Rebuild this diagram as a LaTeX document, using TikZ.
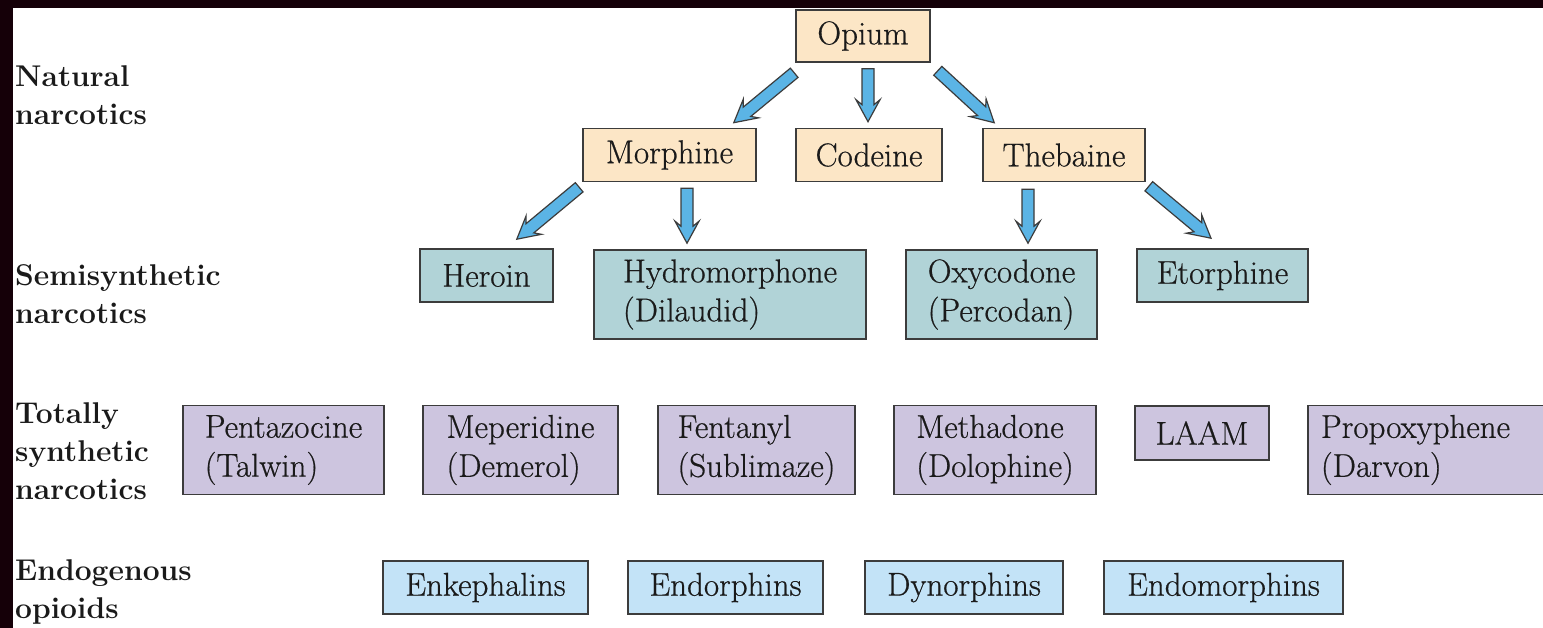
\documentclass[tikz,border=0pt]{standalone}
\usepackage{fontspec}
\newfontfamily\boxfam{Latin Modern Roman}[FakeBold=0.6]
\usetikzlibrary{calc}
\definecolor{peachcol}{HTML}{FCE6C6}
\definecolor{semicol}{HTML}{B1D3D7}
\definecolor{synthcol}{HTML}{CDC5DF}
\definecolor{endocol}{HTML}{C3E3F7}
\definecolor{arrowcol}{HTML}{5BB4E5}
\definecolor{linecol}{HTML}{3C3C3C}
\definecolor{bandcol}{HTML}{150008}
\definecolor{textcol}{HTML}{1A1A1A}
\newcommand\boxfont{\boxfam\fontsize{33}{39}\selectfont}
\newcommand\labfont{\fontsize{30}{38}\selectfont\bfseries}
\newcommand\fatarrow[2]{%
  \draw[fatarr] let \p1=#1, \p2=#2,
    \n1={atan2(\y2-\y1,\x2-\x1)}, \n2={veclen(\x2-\x1,\y2-\y1)} in
    ($(\p1)+(\n1+90:6)$) -- ($(\p1)+(\n1:\n2-17)+(\n1+90:6)$)
    -- ($(\p1)+(\n1:\n2-22)+(\n1+90:12)$) -- (\p2)
    -- ($(\p1)+(\n1:\n2-22)+(\n1-90:12)$) -- ($(\p1)+(\n1:\n2-17)+(\n1-90:6)$)
    -- ($(\p1)+(\n1-90:6)$) -- cycle;}
\begin{document}
\begin{tikzpicture}[x=1pt,y=1pt,
  box/.style={draw=linecol, line width=1.6pt, inner sep=0pt, align=left,
    font=\boxfont, text=textcol},
  one/.style={minimum height=53pt},
  two/.style={minimum height=89pt},
  lab/.style={anchor=north west, inner sep=0pt, align=left, font=\labfont, text=textcol},
  fatarr/.style={fill=arrowcol, draw=linecol, line width=1.2pt, line join=miter}]
\useasboundingbox (0,0) rectangle (1543,-628);
\fill[white] (-5,5) rectangle (1550,-635);
\fill[bandcol] (-5,5) rectangle (1550,-8);
\fill[bandcol] (-5,5) rectangle (13,-635);

% labels
\node[lab] (lnat) at (15,-65) {Natural\\narcotics};
\node[lab] (lsemi) at (15,-264) {Semisynthetic\\narcotics};
\node[lab] (ltot) at (15,-402) {Totally\\synthetic\\narcotics};
\node[lab] (lendo) at (15,-559) {Endogenous\\opioids};

% natural
\node[box, fill=peachcol, minimum width=134pt, minimum height=52pt] (opium) at (863,-36) {Opium};
\node[box, one, fill=peachcol, minimum width=173pt] (morphine) at (669.5,-155) {Morphine};
\node[box, one, fill=peachcol, minimum width=146pt] (codeine) at (869,-155) {Codeine};
\node[box, one, fill=peachcol, minimum width=162pt] (thebaine) at (1064,-155) {Thebaine};

% semisynthetic
\node[box, one, fill=semicol, minimum width=133pt] (heroin) at (486.5,-275.5) {Heroin};
\node[box, two, fill=semicol, minimum width=272pt] (hydro) at (730,-294.5) {Hydromorphone\\(Dilaudid)};
\node[box, two, fill=semicol, minimum width=191pt] (oxy) at (1001.5,-294.5) {Oxycodone\\(Percodan)};
\node[box, one, fill=semicol, minimum width=171pt] (etor) at (1222.5,-275.5) {Etorphine};

% totally synthetic
\node[box, two, fill=synthcol, minimum width=201pt] (penta) at (283.5,-450) {Pentazocine\\(Talwin)};
\node[box, two, fill=synthcol, minimum width=195pt] (meper) at (520.5,-450) {Meperidine\\(Demerol)};
\node[box, two, fill=synthcol, minimum width=197pt] (fent) at (756.5,-450) {Fentanyl\\(Sublimaze)};
\node[box, two, fill=synthcol, minimum width=202pt] (metha) at (995,-450) {Methadone\\(Dolophine)};
\node[box, one, fill=synthcol, minimum width=134pt, minimum height=54pt] (laam) at (1202,-433) {LAAM};
\node[box, two, fill=synthcol, minimum width=250pt, text width=224pt] (propo) at (1433,-450) {Propoxyphene\\(Darvon)};

% endogenous
\node[box, one, fill=endocol, minimum width=205pt] (enk) at (485.5,-587.5) {Enkephalins};
\node[box, one, fill=endocol, minimum width=195pt] (endor) at (725.5,-587.5) {Endorphins};
\node[box, one, fill=endocol, minimum width=198pt] (dyn) at (964,-587.5) {Dynorphins};
\node[box, one, fill=endocol, minimum width=239pt] (endom) at (1223.5,-587.5) {Endomorphins};

% arrows
\fatarrow{($(opium.south west)+(-1,-10)$)}{($(morphine.north east)+(-23,5)$)}
\fatarrow{($(opium.south)+(5,-6)$)}{($(codeine.north)+(-1,6)$)}
\fatarrow{($(opium.south east)+(7,-8)$)}{($(thebaine.north west)+(12,5)$)}
\fatarrow{($(morphine.south west)+(-3,-5)$)}{($(heroin.north east)+(-37,9)$)}
\fatarrow{($(morphine.south)+(17.5,-6)$)}{($(hydro.north)+(-43,6)$)}
\fatarrow{($(thebaine.south)+(-36,-7)$)}{($(oxy.north)+(26.5,6)$)}
\fatarrow{($(thebaine.south east)+(3,-4)$)}{($(etor.north)+(-11.5,10)$)}
\end{tikzpicture}
\end{document}
